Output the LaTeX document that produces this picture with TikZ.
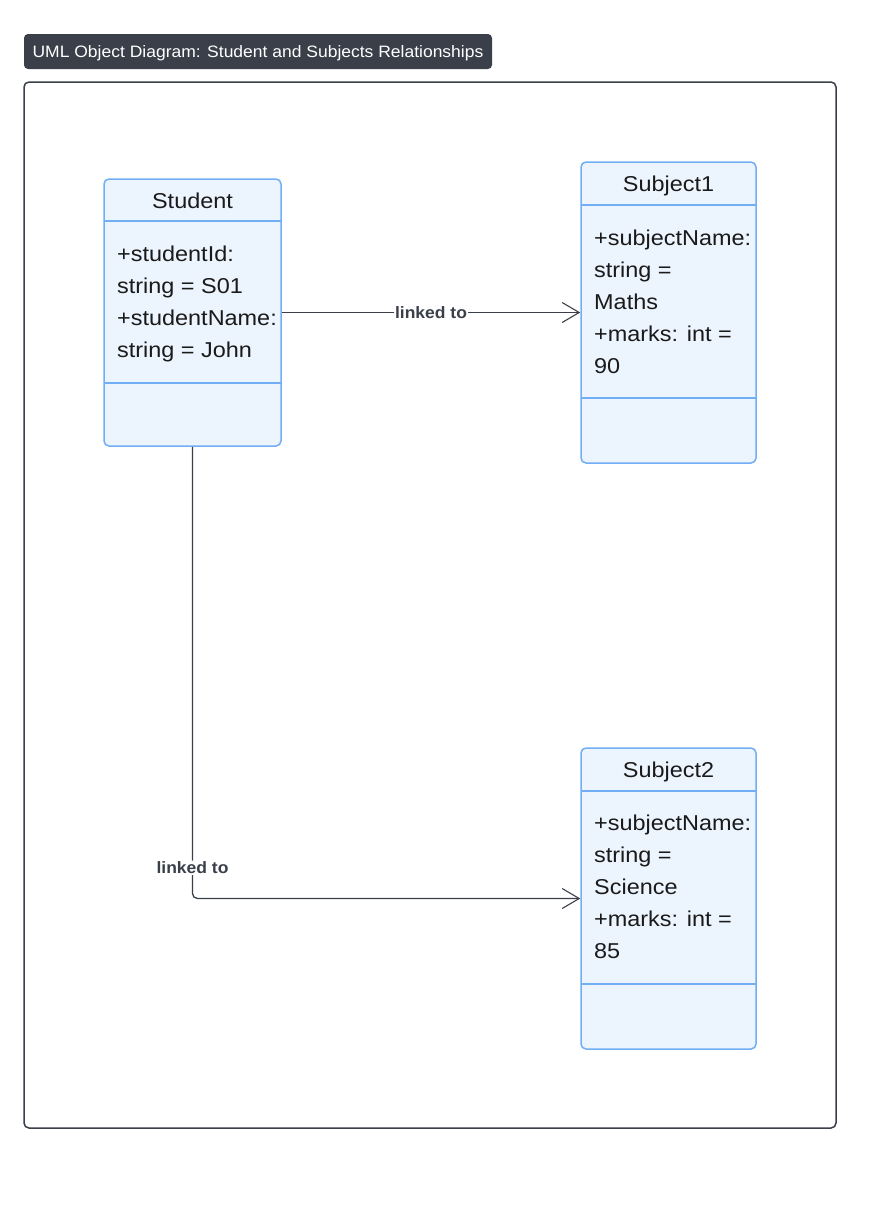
\documentclass[tikz,border=0pt]{standalone}
\usepackage{fontspec}
\setmainfont{Liberation Sans}[FakeStretch=1.09]
\newfontfamily\titlefont{Liberation Sans}[FakeStretch=1.06]
\usetikzlibrary{arrows.meta}
\definecolor{boxfill}{HTML}{ECF4FE}
\definecolor{boxline}{HTML}{72AEF5}
\definecolor{edgecol}{HTML}{3A3F4A}
\definecolor{titlebg}{HTML}{3A3F49}
\definecolor{txt}{HTML}{1A1A1A}
\begin{document}
\begin{tikzpicture}[x=1pt,y=-1pt,
  classbox/.style={draw=boxline, fill=boxfill, line width=1.5pt, rounded corners=5pt, minimum width=177pt, inner sep=0pt},
  divider/.style={draw=boxline, line width=1.5pt},
  clsname/.style={anchor=base, inner sep=0pt, text=txt, font=\fontsize{21.5}{25}\selectfont},
  attr/.style={anchor=base west, inner sep=0pt, text=txt, font=\fontsize{21.5}{25}\selectfont},
  link/.style={draw=edgecol, line width=1.3pt, -{Straight Barb[length=17pt,width=20pt,line width=1.1pt]}},
  linklabel/.style={fill=white, inner sep=1pt, text=edgecol, font=\titlefont\bfseries\fontsize{16.5}{19}\selectfont}
]
\useasboundingbox (0,0) rectangle (877,1229);
% title
\node[fill=titlebg, rounded corners=4pt, minimum width=468pt, minimum height=35pt, inner sep=0pt] (titlebox) at (258,51.5) {};
\node[text=white, font=\titlefont\fontsize{16.5}{19}\selectfont, inner sep=0pt] (titletext) at (258,53.5) {UML Object Diagram: Student and Subjects Relationships};
% frame
\node[draw=edgecol, line width=1.5pt, rounded corners=5pt, minimum width=812pt, minimum height=1046pt, inner sep=0pt] (frame) at (430,605) {};

% Student
\node[classbox, minimum width=177pt, minimum height=267pt] (student) at (192.5,312.5) {};
\draw[divider] (104,221) -- (281,221);
\draw[divider] (104,383) -- (281,383);
\node[clsname] (stname) at (192.5,208.5) {Student};
\node[attr] (st1) at (117,261.5) {+studentId:};
\node[attr] (st2) at (117,293.5) {string = S01};
\node[attr] (st3) at (117,325.5) {+studentName:};
\node[attr] (st4) at (117,357.5) {string = John};

% Subject1
\node[classbox, minimum width=175pt, minimum height=301pt] (subj1) at (668.5,312.5) {};
\draw[divider] (581,205) -- (756,205);
\draw[divider] (581,398) -- (756,398);
\node[clsname] (s1name) at (668.5,191.5) {Subject1};
\node[attr] (s1a) at (594,245.5) {+subjectName:};
\node[attr] (s1b) at (594,277.5) {string =};
\node[attr] (s1c) at (594,309.5) {Maths};
\node[attr] (s1d) at (594,341.5) {+marks: int =};
\node[attr] (s1e) at (594,373.5) {90};

% Subject2
\node[classbox, minimum width=175pt, minimum height=301pt] (subj2) at (668.5,898.5) {};
\draw[divider] (581,791) -- (756,791);
\draw[divider] (581,984) -- (756,984);
\node[clsname] (s2name) at (668.5,777.5) {Subject2};
\node[attr] (s2a) at (594,830.5) {+subjectName:};
\node[attr] (s2b) at (594,862.5) {string =};
\node[attr] (s2c) at (594,894.5) {Science};
\node[attr] (s2d) at (594,926.5) {+marks: int =};
\node[attr] (s2e) at (594,958.5) {85};

% connectors
\draw[link] (student.east) -- node[linklabel, pos=0.5] {linked to} (subj1.west);
\draw[link, rounded corners=5pt] (student.south) |- node[linklabel, pos=0.466] {linked to} (subj2.west);
\end{tikzpicture}
\end{document}
